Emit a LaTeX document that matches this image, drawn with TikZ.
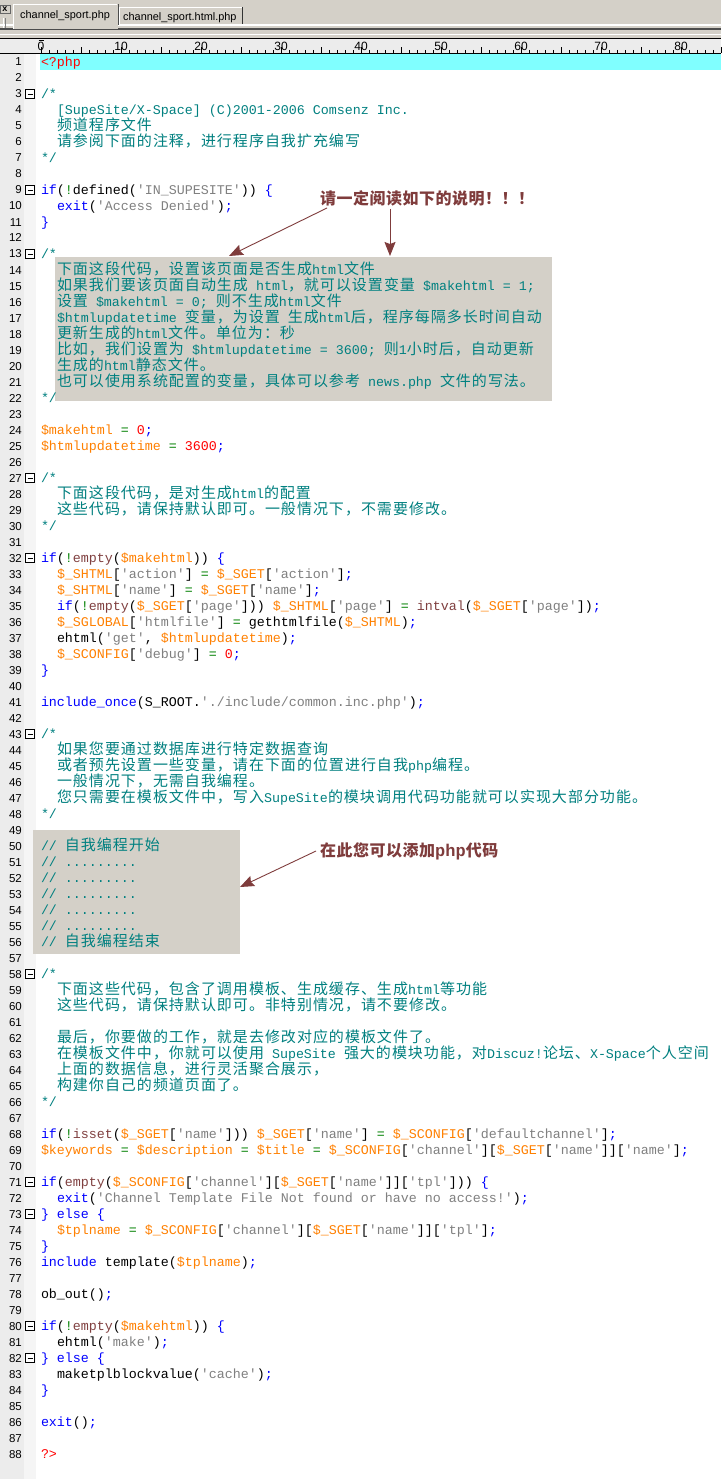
\documentclass[tikz,border=0pt]{standalone}
\usepackage{fontspec}
\usetikzlibrary{arrows.meta}
\newfontfamily\cjkfam[LetterSpace=6.67]{Noto Sans CJK SC}
\newfontfamily\notefam[LetterSpace=3.1]{Noto Sans CJK SC}
\newfontfamily\monofam{Liberation Mono}
\newfontfamily\sansfam{Liberation Sans}
\definecolor{barbg}{HTML}{D4D0C8}
\definecolor{rulerbg}{HTML}{ECECEC}
\definecolor{gutterA}{HTML}{ECECEC}
\definecolor{gutterB}{HTML}{F5F5F5}
\definecolor{lineHi}{HTML}{80FFFF}
\definecolor{noteC}{HTML}{7F3C3C}
\definecolor{cmC}{HTML}{008080}
\definecolor{varC}{HTML}{FF8000}
\definecolor{strC}{HTML}{808080}
\definecolor{fnC}{HTML}{804040}
\definecolor{opC}{HTML}{008000}
\newcommand{\zh}[1]{{\fontsize{15}{16}\cjkfam #1}}
\newcommand{\kw}[1]{\textcolor{blue}{#1}}
\newcommand{\vr}[1]{\textcolor{varC}{#1}}
\newcommand{\st}[1]{\textcolor{strC}{#1}}
\newcommand{\fn}[1]{\textcolor{fnC}{#1}}
\newcommand{\op}[1]{\textcolor{opC}{#1}}
\newcommand{\nm}[1]{\textcolor{red}{#1}}
\tikzset{
  codetext/.style={anchor=base west,inner sep=0pt,outer sep=0pt,font=\fontsize{13.33}{16}\monofam\frenchspacing,text=black},
  cmtext/.style={codetext,text=cmC},
  lnum/.style={anchor=base east,inner sep=0pt,font=\fontsize{11.5}{14}\sansfam,text=black},
  rulenum/.style={anchor=base,inner sep=0pt,font=\fontsize{12}{14}\sansfam,text=black},
  tabtext/.style={inner sep=0pt,anchor=base west,font=\fontsize{10.9}{14}\sansfam,text=black},
  notetext/.style={anchor=base west,inner sep=0pt,font=\fontsize{16}{16}\bfseries\notefam,text=noteC},
  notearrow/.style={draw=noteC,line width=0.9pt,-{Stealth[length=14pt,width=11pt,inset=2pt]}},
  graybox/.style={fill=barbg,draw=none,inner sep=0pt,minimum width=0pt},
}
\newcommand{\codeln}[3]{\node[codetext] (L#1) at ({41+8*#2},{66.5+16*(#1-1)}) {#3};}
\newcommand{\cmln}[3]{\node[cmtext] (L#1) at ({41+8*#2},{66.5+16*(#1-1)}) {#3};}
\begin{document}
\begin{tikzpicture}[x=1pt,y=-1pt]
\useasboundingbox (0,0) rectangle (721,1479);
\fill[white] (0,0) rectangle (721,1479);
% toolbar
\fill[barbg] (0,0) rectangle (721,38);
\fill[white] (0,24.5) rectangle (721,26);
\fill[black!70] (0,28.5) rectangle (721,30);
\fill[white] (0,34) rectangle (721,35);
% close button and grip
\draw[black!60,fill=barbg] (0.5,5) rectangle (10,13.5);
\node[inner sep=0pt,font=\fontsize{9}{9}\bfseries\sansfam] (closex) at (5,9) {x};
\draw[white,line width=1pt] (3,18) -- (3,28);
\draw[black!50,line width=0.8pt] (5.5,18) -- (5.5,28);
% tabs
\fill[barbg] (13,4) rectangle (118,29);
\draw[white,line width=1pt] (13.5,29) -- (13.5,4.5) -- (117,4.5);
\draw[black!70,line width=1pt] (118,4.5) -- (118,25);
\draw[white,line width=1pt] (119.5,24) -- (119.5,7.5) -- (242,7.5);
\draw[black!80,line width=1pt] (242.5,7) -- (242.5,24);
\node[tabtext] (tab1) at (20,19) {channel\_sport.php};
\node[tabtext] (tab2) at (123,21) {channel\_sport.html.php};
% ruler
\fill[rulerbg] (0,38) rectangle (721,53);
\draw[black,line width=1.2pt] (0,38.5) -- (721,38.5);
\draw[black,line width=1pt] (0,53.5) -- (721,53.5);
\foreach \i in {0,...,85}{
  \pgfmathtruncatemacro{\rem}{mod(\i,5)}
  \ifnum\rem=0
    \draw[black,line width=0.8pt] ({41+8*\i},47.5) -- ({41+8*\i},53);
  \else
    \draw[black,line width=0.8pt] ({41+8*\i},50) -- ({41+8*\i},53);
  \fi
}
\foreach \i in {0,10,...,80}{
  \node[rulenum] (rn\i) at ({41+8*\i},51) {\i};
}
\draw[black,line width=1pt] (38.5,40.5) -- (43.5,40.5);
% gutter
\fill[gutterA] (0,54) rectangle (24,1479);
\fill[gutterB] (24,54) rectangle (36,1479);
\fill[lineHi] (40,54) rectangle (721,70);
% highlight boxes
\node[graybox,anchor=north west,minimum width=497pt,minimum height=144pt] (boxA) at (55,257) {};
\node[graybox,anchor=north west,minimum width=207pt,minimum height=124pt] (boxB) at (33,830) {};
% line numbers
\foreach \n in {1,...,88}{
  \node[lnum] (num\n) at (22,{66+16*(\n-1)}) {\n};
}
% fold markers
\foreach \n in {3,9,13,27,32,43,58,71,73,80,82}{
  \draw[black,fill=white,line width=0.9pt] (25.5,{62+16*(\n-1)-4.5}) rectangle (34.5,{62+16*(\n-1)+4.5});
  \draw[black,line width=0.9pt] (27.5,{62+16*(\n-1)}) -- (32.5,{62+16*(\n-1)});
}
% code
\codeln{1}{0}{\nm{<?php}}
\cmln{3}{0}{/*}
\cmln{4}{2}{[SupeSite/X-Space] (C)2001-2006 Comsenz Inc.}
\cmln{5}{2}{\zh{频道程序文件}}
\cmln{6}{2}{\zh{请参阅下面的注释，进行程序自我扩充编写}}
\cmln{7}{0}{*/}
\codeln{9}{0}{\kw{if}(\op{!}defined(\st{'IN\_SUPESITE'})) \kw{\{}}
\codeln{10}{2}{\kw{exit}(\st{'Access Denied'})\kw{;}}
\codeln{11}{0}{\kw{\}}}
\cmln{13}{0}{/*}
\cmln{14}{2}{\zh{下面这段代码，设置该页面是否生成}html\zh{文件}}
\cmln{15}{2}{\zh{如果我们要该页面自动生成} html\zh{，就可以设置变量} \$makehtml = 1;}
\cmln{16}{2}{\zh{设置} \$makehtml = 0; \zh{则不生成}html\zh{文件}}
\cmln{17}{2}{\$htmlupdatetime \zh{变量，为设置} \zh{生成}html\zh{后，程序每隔多长时间自动}}
\cmln{18}{2}{\zh{更新生成的}html\zh{文件。单位为：秒}}
\cmln{19}{2}{\zh{比如，我们设置为} \$htmlupdatetime = 3600; \zh{则}1\zh{小时后，自动更新}}
\cmln{20}{2}{\zh{生成的}html\zh{静态文件。}}
\cmln{21}{2}{\zh{也可以使用系统配置的变量，具体可以参考} news.php \zh{文件的写法。}}
\cmln{22}{0}{*/}
\codeln{24}{0}{\vr{\$makehtml} \op{=} \nm{0}\kw{;}}
\codeln{25}{0}{\vr{\$htmlupdatetime} \op{=} \nm{3600}\kw{;}}
\cmln{27}{0}{/*}
\cmln{28}{2}{\zh{下面这段代码，是对生成}html\zh{的配置}}
\cmln{29}{2}{\zh{这些代码，请保持默认即可。一般情况下，不需要修改。}}
\cmln{30}{0}{*/}
\codeln{32}{0}{\kw{if}(\op{!}\fn{empty}(\vr{\$makehtml})) \kw{\{}}
\codeln{33}{2}{\vr{\$\_SHTML}[\st{'action'}] \op{=} \vr{\$\_SGET}[\st{'action'}]\kw{;}}
\codeln{34}{2}{\vr{\$\_SHTML}[\st{'name'}] \op{=} \vr{\$\_SGET}[\st{'name'}]\kw{;}}
\codeln{35}{2}{\kw{if}(\op{!}\fn{empty}(\vr{\$\_SGET}[\st{'page'}])) \vr{\$\_SHTML}[\st{'page'}] \op{=} \fn{intval}(\vr{\$\_SGET}[\st{'page'}])\kw{;}}
\codeln{36}{2}{\vr{\$\_SGLOBAL}[\st{'htmlfile'}] \op{=} gethtmlfile(\vr{\$\_SHTML})\kw{;}}
\codeln{37}{2}{ehtml(\st{'get'}, \vr{\$htmlupdatetime})\kw{;}}
\codeln{38}{2}{\vr{\$\_SCONFIG}[\st{'debug'}] \op{=} \nm{0}\kw{;}}
\codeln{39}{0}{\kw{\}}}
\codeln{41}{0}{\kw{include\_once}(S\_ROOT.\st{'./include/common.inc.php'})\kw{;}}
\cmln{43}{0}{/*}
\cmln{44}{2}{\zh{如果您要通过数据库进行特定数据查询}}
\cmln{45}{2}{\zh{或者预先设置一些变量，请在下面的位置进行自我}php\zh{编程。}}
\cmln{46}{2}{\zh{一般情况下，无需自我编程。}}
\cmln{47}{2}{\zh{您只需要在模板文件中，写入}SupeSite\zh{的模块调用代码功能就可以实现大部分功能。}}
\cmln{48}{0}{*/}
\cmln{50}{0}{// \zh{自我编程开始}}
\cmln{51}{0}{// .........}
\cmln{52}{0}{// .........}
\cmln{53}{0}{// .........}
\cmln{54}{0}{// .........}
\cmln{55}{0}{// .........}
\cmln{56}{0}{// \zh{自我编程结束}}
\cmln{58}{0}{/*}
\cmln{59}{2}{\zh{下面这些代码，包含了调用模板、生成缓存、生成}html\zh{等功能}}
\cmln{60}{2}{\zh{这些代码，请保持默认即可。非特别情况，请不要修改。}}
\cmln{62}{2}{\zh{最后，你要做的工作，就是去修改对应的模板文件了。}}
\cmln{63}{2}{\zh{在模板文件中，你就可以使用} SupeSite \zh{强大的模块功能，对}Discuz!\zh{论坛、}X-Space\zh{个人空间}}
\cmln{64}{2}{\zh{上面的数据信息，进行灵活聚合展示，}}
\cmln{65}{2}{\zh{构建你自己的频道页面了。}}
\cmln{66}{0}{*/}
\codeln{68}{0}{\kw{if}(\op{!}\fn{isset}(\vr{\$\_SGET}[\st{'name'}])) \vr{\$\_SGET}[\st{'name'}] \op{=} \vr{\$\_SCONFIG}[\st{'defaultchannel'}]\kw{;}}
\codeln{69}{0}{\vr{\$keywords} \op{=} \vr{\$description} \op{=} \vr{\$title} \op{=} \vr{\$\_SCONFIG}[\st{'channel'}][\vr{\$\_SGET}[\st{'name'}]][\st{'name'}]\kw{;}}
\codeln{71}{0}{\kw{if}(\fn{empty}(\vr{\$\_SCONFIG}[\st{'channel'}][\vr{\$\_SGET}[\st{'name'}]][\st{'tpl'}])) \kw{\{}}
\codeln{72}{2}{\kw{exit}(\st{'Channel Template File Not found or have no access!'})\kw{;}}
\codeln{73}{0}{\kw{\}} \kw{else} \kw{\{}}
\codeln{74}{2}{\vr{\$tplname} \op{=} \vr{\$\_SCONFIG}[\st{'channel'}][\vr{\$\_SGET}[\st{'name'}]][\st{'tpl'}]\kw{;}}
\codeln{75}{0}{\kw{\}}}
\codeln{76}{0}{\kw{include} template(\vr{\$tplname})\kw{;}}
\codeln{78}{0}{ob\_out()\kw{;}}
\codeln{80}{0}{\kw{if}(\op{!}\fn{empty}(\vr{\$makehtml})) \kw{\{}}
\codeln{81}{2}{ehtml(\st{'make'})\kw{;}}
\codeln{82}{0}{\kw{\}} \kw{else} \kw{\{}}
\codeln{83}{2}{maketplblockvalue(\st{'cache'})\kw{;}}
\codeln{84}{0}{\kw{\}}}
\codeln{86}{0}{\kw{exit}()\kw{;}}
\codeln{88}{0}{\nm{?>}}
% annotations
\node[notetext] (noteA) at (320,204.5) {请一定阅读如下的说明！！！};
\node[notetext] (noteB) at (320,856.5) {在此您可以添加{\fontsize{17}{16}\monofam php}代码};
\coordinate (startA) at (327,208);
\coordinate (tipA) at (229,256);
\coordinate (startB) at (390,209);
\coordinate (tipB) at (390,256);
\coordinate (startC) at (316,851);
\coordinate (tipC) at (240,887);
\draw[notearrow] (startA) -- (tipA);
\draw[notearrow] (startB) -- (tipB);
\draw[notearrow] (startC) -- (tipC);
\end{tikzpicture}
\end{document}
